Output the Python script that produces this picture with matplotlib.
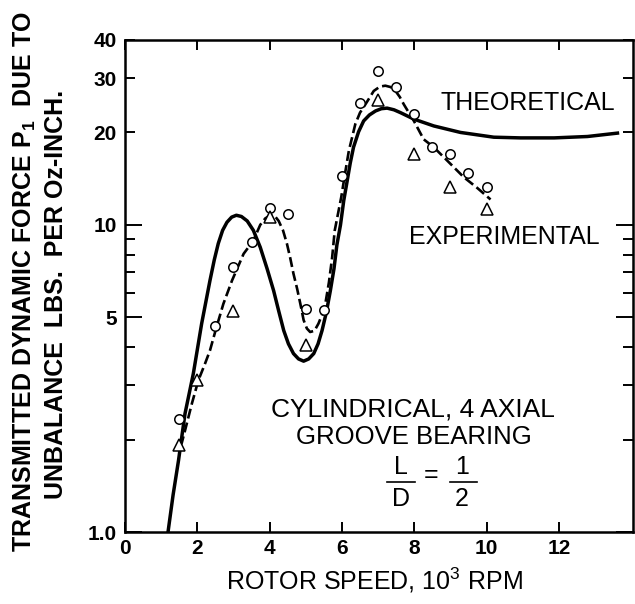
import matplotlib
matplotlib.use("Agg")
from matplotlib import pyplot as plt
from matplotlib.lines import Line2D

plt.rcParams["font.family"] = ["Liberation Sans", "DejaVu Sans"]
plt.rcParams["mathtext.fontset"] = "custom"
plt.rcParams["mathtext.rm"] = "Liberation Sans"
plt.rcParams["mathtext.bf"] = "Liberation Sans:bold"

# measured points, rotor speed in 10^3 rpm
circle_x = [1.5, 2.5, 3.0, 3.5, 4.0, 4.5, 5.0, 5.5, 6.0, 6.5, 7.0, 7.5, 8.0, 8.5, 9.0, 9.5, 10.0]
circle_y = [2.33, 4.69, 7.28, 8.78, 11.36, 10.86, 5.32, 5.3, 14.4, 25.0, 31.6, 28.1, 23.0, 18.0, 17.0, 14.8, 13.3]
tri_x = [1.5, 2.0, 3.0, 4.0, 5.0, 7.0, 8.0, 9.0, 10.0]
tri_y = [1.92, 3.12, 5.26, 10.6, 4.07, 25.5, 17.0, 13.3, 11.3]

# theoretical curve
theo_x = [1.19, 1.33, 1.48, 1.66, 1.89, 2.12, 2.35, 2.47, 2.58, 2.70, 2.82, 2.95, 3.08,
          3.22, 3.38, 3.55, 3.74, 3.93, 4.11, 4.25, 4.39, 4.52, 4.66, 4.80, 4.94, 5.08,
          5.22, 5.34, 5.45, 5.57, 5.68, 5.78, 5.86, 5.96, 6.05, 6.14, 6.23, 6.32, 6.46,
          6.60, 6.76, 6.93, 7.09, 7.25, 7.44, 7.62, 7.99, 8.54, 9.28, 10.2, 10.94, 11.87,
          12.79, 13.62]
theo_y = [1.0, 1.32, 1.71, 2.43, 3.28, 4.77, 6.59, 7.7, 8.7, 9.6, 10.2, 10.6, 10.75,
          10.65, 10.3, 9.6, 8.46, 7.2, 6.11, 5.25, 4.53, 4.1, 3.81, 3.66, 3.6, 3.66,
          3.81, 4.1, 4.53, 5.2, 6.11, 7.2, 8.6, 10.0, 12.0, 13.8, 15.9, 17.9, 20.1,
          21.8, 22.8, 23.5, 23.9, 24.0, 23.7, 23.2, 22.1, 21.0, 20.0, 19.3, 19.2, 19.2,
          19.4, 19.9]

# experimental (dashed) curve
exp_x = [1.5, 1.57, 1.66, 1.85, 2.03, 2.20, 2.35, 2.52, 2.72, 2.96, 3.28, 3.55, 3.74,
         3.88, 4.02, 4.14, 4.25, 4.37, 4.48, 4.57, 4.66, 4.76, 4.85, 4.94, 5.03, 5.12,
         5.24, 5.35, 5.45, 5.54, 5.64, 5.73, 5.80, 5.98, 6.09, 6.19, 6.37, 6.50, 6.65,
         6.88, 7.05, 7.20, 7.35, 7.48, 7.60, 7.71, 7.85, 7.99, 8.26, 8.54, 8.91, 9.37,
         9.74, 10.11]
exp_y = [1.92, 1.95, 2.14, 2.62, 3.12, 3.5, 3.9, 4.6, 5.53, 6.59, 8.05, 8.89, 10.0,
         10.5, 10.75, 10.7, 10.3, 9.6, 8.67, 7.8, 6.93, 6.2, 5.53, 4.9, 4.6, 4.48,
         4.52, 4.77, 5.1, 5.53, 6.5, 7.85, 9.58, 12.3, 14.8, 17.4, 21.3, 23.2, 24.7,
         27.3, 28.2, 28.4, 28.1, 27.3, 26.1, 24.7, 23.2, 21.8, 19.0, 17.9, 16.2, 14.3,
         13.2, 12.1]

fig = plt.figure(figsize=(6.35, 6.04), dpi=100)
ax = fig.add_axes([125 / 635, 72 / 604, 508 / 635, 492 / 604])

ax.plot(theo_x, theo_y, color="black", lw=2.5, solid_joinstyle="round")
ax.plot(exp_x, exp_y, color="black", lw=1.9, linestyle=(0, (3.8, 1.6)))
ax.plot(circle_x, circle_y, "o", ms=6.8, mfc="white", mec="black", mew=1.1)
ax.plot(tri_x, tri_y, "^", ms=8, mfc="white", mec="black", mew=1.1)

ax.set_yscale("log")
ax.set_xlim(0, 14.05)
ax.set_ylim(1, 40)

ax.set_xticks([0, 2, 4, 6, 8, 10, 12])
ax.set_xticklabels(["0", "2", "4", "6", "8", "10", "12"])
ax.set_yticks([1, 5, 10])
ax.set_yticklabels(["1.0", "5", "10"])
ax.set_yticks([2, 3, 4, 6, 7, 8, 9, 20, 30, 40], minor=True)
ax.set_yticklabels(["", "", "", "", "", "", "", "20", "30", "40"], minor=True)
ax.set_xticks([], minor=True)

for lab in ax.get_xticklabels() + ax.get_yticklabels() + ax.get_yticklabels(minor=True):
  lab.set_fontsize(15)
  lab.set_fontweight("bold")

ax.tick_params(which="both", direction="in", top=True, right=True, width=1.4)
ax.tick_params(axis="x", which="major", length=7, pad=5)
ax.tick_params(axis="y", which="major", length=12, pad=6)
ax.tick_params(axis="y", which="minor", length=7, pad=6)
for s in ax.spines.values():
  s.set_linewidth(1.8)


# texts placed in figure pixels (origin top-left in the reference)
def fig_text(px, py, s, **kw):
  fig.text(px / 635, 1 - py / 604, s, ha="center", va="center", **kw)


def fig_line(x0, x1, py):
  fig.add_artist(Line2D([x0 / 635, x1 / 635], [1 - py / 604, 1 - py / 604],
                        color="black", lw=1.2, transform=fig.transFigure))


fig_text(374, 580, "ROTOR SPEED, 10$^{3}$ RPM", fontsize=18)
fig_text(25, 282, "TRANSMITTED DYNAMIC FORCE P$_{\\mathbf{1}}$  DUE TO",
         rotation=90, fontsize=18, fontweight="bold")
fig_text(56, 294, "UNBALANCE  LBS.  PER Oz-INCH.",
         rotation=90, fontsize=18, fontweight="bold")

fig_text(528, 103.5, "THEORETICAL", fontsize=18)
fig_text(504, 237, "EXPERIMENTAL", fontsize=18)
fig_text(413, 409, "CYLINDRICAL, 4 AXIAL", fontsize=19)
fig_text(414, 437, "GROOVE BEARING", fontsize=18.5)

# L/D = 1/2
fig_text(401, 467, "L", fontsize=18)
fig_line(387, 415, 482)
fig_text(401, 499, "D", fontsize=18)
fig_text(431, 475, "=", fontsize=18)
fig_text(462, 467, "1", fontsize=18)
fig_line(450, 477, 482)
fig_text(462, 499, "2", fontsize=18)

fig.savefig("out.png", dpi=100)
